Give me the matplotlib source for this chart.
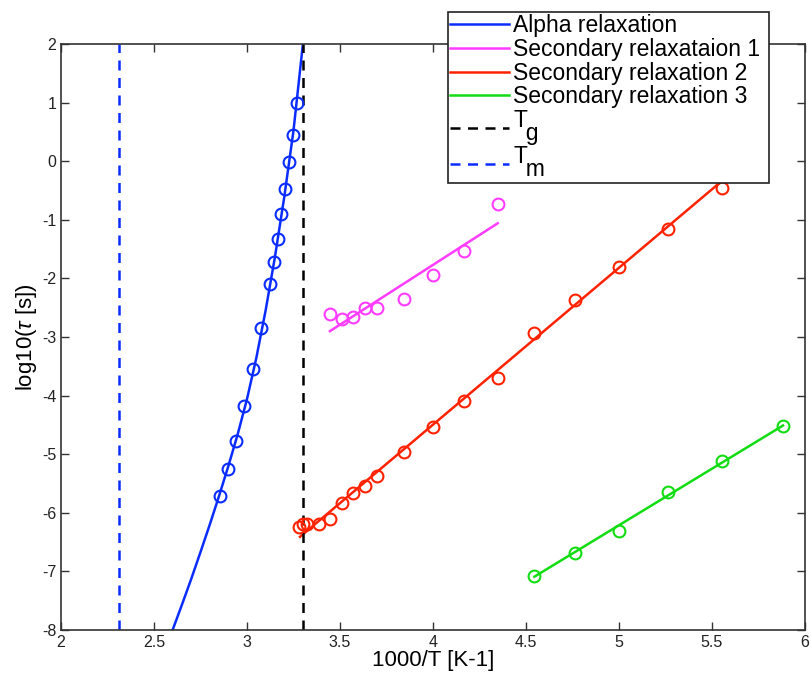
import matplotlib
matplotlib.use("Agg")
import matplotlib.pyplot as plt

plt.rcParams['font.family'] = ['Liberation Sans', 'DejaVu Sans']
plt.rcParams['mathtext.fontset'] = 'custom'
plt.rcParams['mathtext.rm'] = 'Liberation Sans'
plt.rcParams['mathtext.it'] = 'Liberation Sans:italic'
plt.rcParams['axes.unicode_minus'] = False

alpha_x = [2.857, 2.899, 2.941, 2.985, 3.030, 3.077, 3.125, 3.145, 3.165,
           3.185, 3.205, 3.226, 3.247, 3.268]
alpha_y = [-5.72, -5.25, -4.78, -4.18, -3.55, -2.84, -2.09, -1.72, -1.32,
           -0.91, -0.48, -0.01, 0.44, 1.00]
alpha_fit_x = [2.60, 2.65, 2.70, 2.75, 2.80, 2.85, 2.90, 2.95, 3.00, 3.05,
               3.10, 3.15, 3.20, 3.25, 3.30]
alpha_fit_y = [-8.0, -7.57, -7.13, -6.67, -6.20, -5.71, -5.20, -4.66, -4.06,
               -3.36, -2.55, -1.64, -0.62, 0.52, 1.98]

# secondary relaxation 1
sec1_x = [3.448, 3.509, 3.571, 3.636, 3.700, 3.846, 4.000, 4.167, 4.348]
sec1_y = [-2.61, -2.70, -2.66, -2.50, -2.50, -2.35, -1.94, -1.53, -0.73]
sec1_fit_x = [3.446, 4.348]
sec1_fit_y = [-2.90, -1.06]

# secondary relaxation 2
sec2_x = [3.279, 3.300, 3.322, 3.389, 3.448, 3.509, 3.571, 3.636, 3.700,
          3.846, 4.000, 4.167, 4.348, 4.545, 4.762, 5.000, 5.263, 5.556]
sec2_y = [-6.25, -6.19, -6.19, -6.19, -6.11, -5.83, -5.67, -5.55, -5.37,
          -4.97, -4.53, -4.10, -3.70, -2.94, -2.37, -1.81, -1.15, -0.46]
sec2_fit_x = [3.285, 5.556]
sec2_fit_y = [-6.41, -0.33]

# secondary relaxation 3
sec3_x = [4.545, 4.762, 5.000, 5.263, 5.556, 5.882]
sec3_y = [-7.07, -6.68, -6.31, -5.65, -5.11, -4.52]
sec3_fit_x = [4.545, 5.882]
sec3_fit_y = [-7.09, -4.51]

tg = 3.30
tm = 2.312

c_blue = '#0a2cff'
c_mag = '#ff3cff'
c_red = '#ff2200'
c_green = '#12dd12'

fig = plt.figure(figsize=(8.11, 6.76), dpi=100)
ax = fig.add_axes([0.0752, 0.068, 0.9174, 0.867])

mk = dict(ls='none', marker='o', mfc='none', ms=8.5, mew=1.5)
ax.plot(alpha_fit_x, alpha_fit_y, color=c_blue, lw=1.8, label='Alpha relaxation')
# trailing space keeps a little room before the right edge of the box
ax.plot(sec1_fit_x, sec1_fit_y, color=c_mag, lw=1.8, label='Secondary relaxataion 1 ')
ax.plot(sec2_fit_x, sec2_fit_y, color=c_red, lw=1.8, label='Secondary relaxation 2')
ax.plot(sec3_fit_x, sec3_fit_y, color=c_green, lw=1.8, label='Secondary relaxation 3')
# subscripts drawn MATLAB-style: full size, dropped below the T
ax.axvline(tg, color='black', ls=(0, (4, 3)), lw=1.8, label='T\n  g')
ax.axvline(tm, color=c_blue, ls=(0, (4, 3)), lw=1.8, label='T\n  m')

ax.plot(alpha_x, alpha_y, mec=c_blue, **mk)
ax.plot(sec1_x, sec1_y, mec=c_mag, **mk)
ax.plot(sec2_x, sec2_y, mec=c_red, **mk)
ax.plot(sec3_x, sec3_y, mec=c_green, **mk)

ax.set_xlim(2, 6)
ax.set_ylim(-8, 2)
ax.set_xticks([2, 2.5, 3, 3.5, 4, 4.5, 5, 5.5, 6])
ax.set_xticklabels(['2', '2.5', '3', '3.5', '4', '4.5', '5', '5.5', '6'])
ax.set_yticks(range(-8, 3))
ax.tick_params(direction='in', top=True, right=True, labelsize=11.5,
               length=6, width=1, color='#333333', labelcolor='#222222')
for s in ax.spines.values():
    s.set_color('#333333')
    s.set_linewidth(1.2)

ax.set_xlabel('1000/T [K-1]', fontsize=16, labelpad=0)
ax.set_ylabel(r'log10($\tau$ [s])', fontsize=16, labelpad=2)

leg = ax.legend(loc='upper right', bbox_to_anchor=(0.952, 1.0546),
                fontsize=16.5, frameon=True, fancybox=False, framealpha=1,
                edgecolor='#222222', handlelength=2.55, handletextpad=0.2,
                labelspacing=0.03, borderpad=0.1, borderaxespad=0)
leg.get_frame().set_linewidth(1.2)
for t in leg.get_texts()[4:]:
    t.set_linespacing(0.43)

fig.savefig('out.png', dpi=100)
